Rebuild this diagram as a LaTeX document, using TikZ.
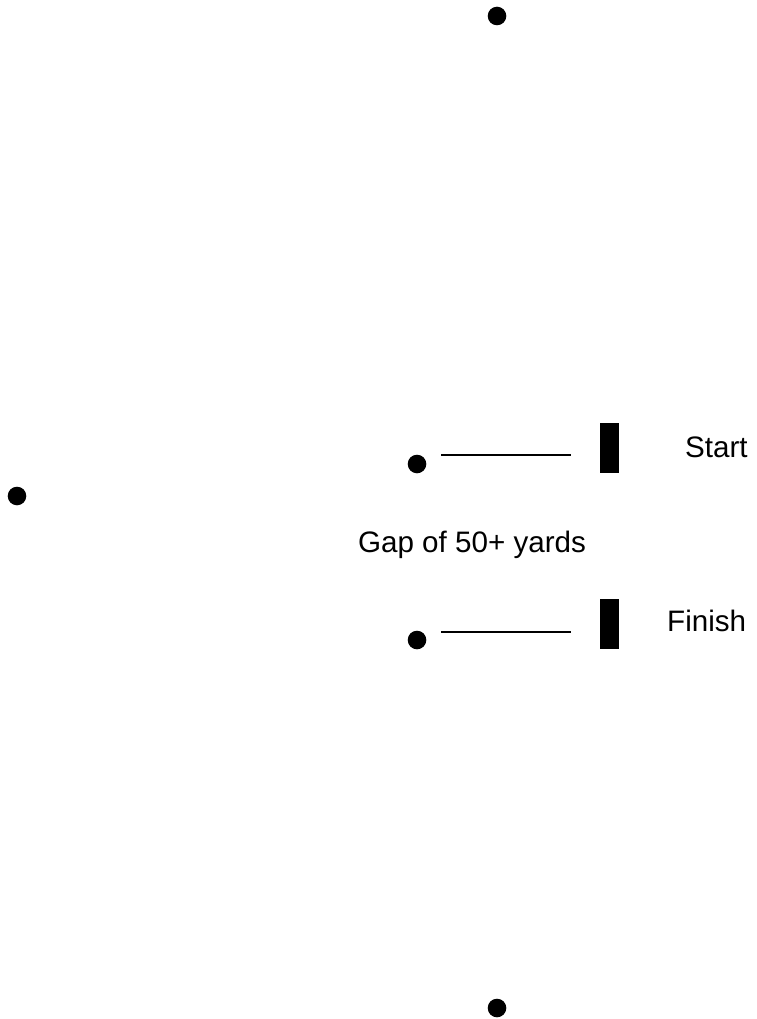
\documentclass[tikz,border=0pt]{standalone}
\usepackage{fontspec}
\setmainfont{Liberation Sans}
\begin{document}
\begin{tikzpicture}[x=1pt,y=-1pt,
  dot/.style={circle,fill=black,inner sep=0pt,minimum size=18.6pt},
  barbox/.style={rectangle,fill=black,inner sep=0pt,minimum width=19pt,minimum height=50pt},
  lbl/.style={inner sep=0pt,font=\fontsize{29.6}{35}\selectfont},
  markline/.style={line width=2.7pt}]
\useasboundingbox (0,0) rectangle (756,1019);
\node[dot] (top) at (497,16) {};
\node[dot] (left) at (17,496) {};
\node[dot] (bottom) at (497,1008) {};
% start
\node[dot] (sdot) at (417,464) {};
\coordinate (sl1) at (441,455);
\coordinate (sl2) at (571,455);
\draw[markline] (sl1) -- (sl2);
\node[barbox] (sbar) at (609.5,448) {};
\node[lbl,anchor=base west] (stxt) at (685,457) {Start};
% gap
\node[lbl,anchor=base] (gap) at (472,552) {Gap of 50+ yards};
% finish
\node[dot] (fdot) at (417,640) {};
\coordinate (fl1) at (441,632);
\coordinate (fl2) at (571,632);
\draw[markline] (fl1) -- (fl2);
\node[barbox] (fbar) at (609.5,623.5) {};
\node[lbl,anchor=base west] (ftxt) at (667,631) {Finish};
\end{tikzpicture}
\end{document}
